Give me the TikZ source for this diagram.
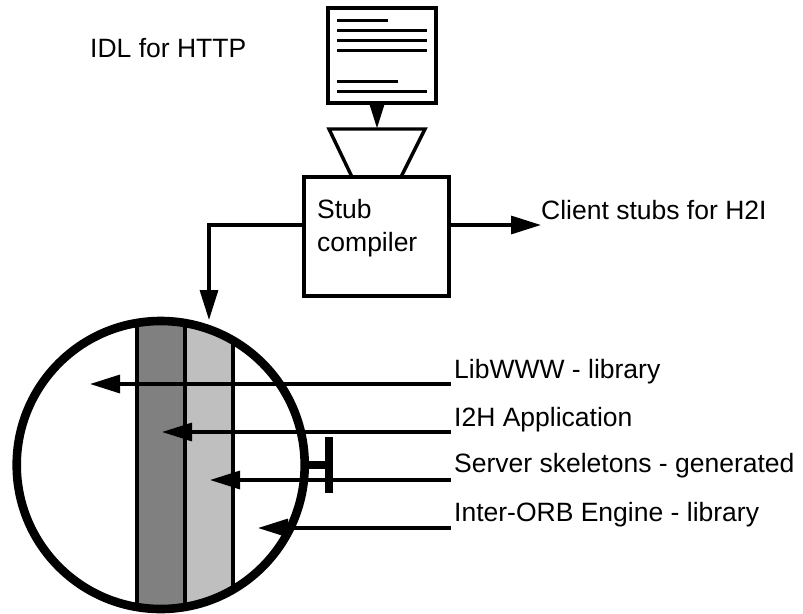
\documentclass[tikz,border=0pt]{standalone}
\usepackage{fontspec}
\setmainfont{Liberation Sans}
\usetikzlibrary{arrows.meta}
\tikzset{
  lbl/.style={anchor=base west,inner sep=0pt,font=\fontsize{26.5}{30}\selectfont},
  thick line/.style={draw=black,line width=3.2pt},
  bigarrow/.style={thick line,-{Triangle[length=30pt,width=18pt]}},
  smallarrow/.style={thick line,-{Triangle[length=24pt,width=14pt]}},
  textline/.style={line width=3pt},
  stripline/.style={line width=3.4pt},
}
\begin{document}
\begin{tikzpicture}[x=1pt,y=-1pt]
\useasboundingbox (0,0) rectangle (803,613);
% document
\node[draw,line width=3.2pt,minimum width=108pt,minimum height=95pt,inner sep=0pt] (doc) at (382,55.5) {};
\foreach \y/\e in {20/388,30/427,40/427,50/427,81/398,91/427}
  \draw[textline] (337,\y) -- (\e,\y);
% compiler
\coordinate (funT) at (377,128.5);
\draw[line width=3.4pt,line join=miter] (352,177) -- (329,129) -- (425,129) -- (401,177);
\node[draw,line width=3.4pt,minimum width=145pt,minimum height=119pt,inner sep=0pt] (comp) at (376.5,236.5) {};
\node[lbl] (stub) at (317,218) {Stub};
\node[lbl] (compiler) at (317,251) {compiler};
\draw[smallarrow] (doc.south -| funT) -- (funT);
% client
\node[lbl] (client) at (541,219) {Client stubs for H2I};
\coordinate (clientTip) at (541,225);
\draw[bigarrow] (comp.east |- clientTip) -- (clientTip);
% circle contents
\coordinate (cc) at (160.7,465);
\coordinate (circleTop) at (209,320);
\begin{scope}
  \clip (cc) circle (144pt);
  \fill[white] (cc) circle (144pt);
  \fill[black!50] (137,310) rectangle (185,620);
  \fill[black!25] (185,310) rectangle (233,620);
  \draw[stripline] (137,310) -- (137,620);
  \draw[stripline] (185,310) -- (185,620);
  \draw[stripline] (233,310) -- (233,620);
\end{scope}
\draw[bigarrow] (comp.west |- clientTip) -- (209,225) -- (circleTop);
% labels and arrows
\node[lbl] (lib) at (454,378) {LibWWW - library};
\node[lbl] (app) at (454,426) {I2H Application};
\node[lbl] (srv) at (454,472) {Server skeletons - generated};
\node[lbl] (orb) at (454,521) {Inter-ORB Engine - library};
\coordinate (libS) at (451,384); \coordinate (libT) at (90,384);
\coordinate (appS) at (451,432); \coordinate (appT) at (162,432);
\coordinate (srvS) at (451,480); \coordinate (srvT) at (210,480);
\coordinate (orbS) at (451,528); \coordinate (orbT) at (258,528);
\draw[bigarrow] (libS) -- (libT);
\draw[bigarrow] (appS) -- (appT);
\draw[bigarrow] (srvS) -- (srvT);
\draw[bigarrow] (orbS) -- (orbT);
% circle outline
\node[draw,circle,line width=8.6pt,minimum size=288pt,inner sep=0pt] (ring) at (cc) {};
% T bar
\coordinate (barT) at (329,437); \coordinate (barB) at (329,493);
\draw[line width=8pt] (barT) -- (barB);
\coordinate (barM) at (329,465);
\draw[line width=8pt] (ring.east |- barM) -- (barM);
% title
\node[lbl] (idl) at (90,57) {IDL for HTTP};
\end{tikzpicture}
\end{document}
